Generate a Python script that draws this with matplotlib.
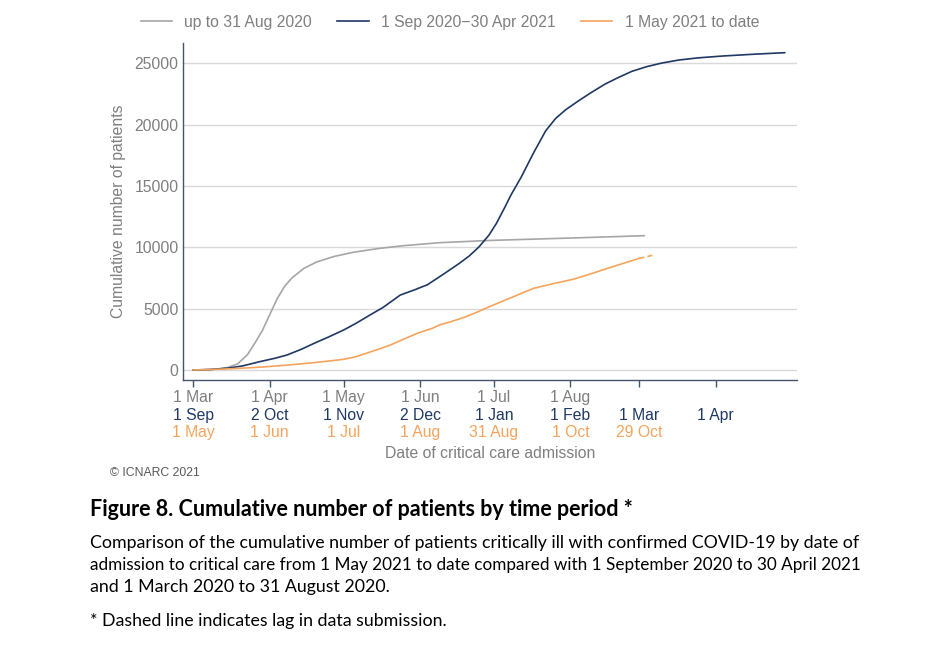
import matplotlib
matplotlib.use("Agg")
import matplotlib.pyplot as plt
import matplotlib.transforms as mtransforms

# days since start of each period
gray_days = [0, 5, 10, 14, 18, 22, 25, 28, 31, 34, 37, 40, 45, 50, 57, 65, 75, 85, 100, 120, 140, 160, 183]
gray_vals = [0, 20, 80, 200, 500, 1250, 2200, 3200, 4500, 5800, 6800, 7500, 8300, 8800, 9250, 9600,
             9900, 10130, 10380, 10560, 10680, 10800, 10950]

blue_days = [0, 7, 14, 20, 27, 33, 38, 44, 49, 55, 61, 66, 71, 77, 84, 90, 95, 100, 104, 108, 112, 116,
             120, 123, 126, 129, 133, 138, 143, 147, 151, 156, 161, 167, 172, 178, 184, 190, 197, 205,
             215, 228, 240]
blue_vals = [0, 40, 150, 330, 680, 950, 1220, 1700, 2170, 2700, 3260, 3800, 4400, 5100, 6110, 6550,
             6950, 7610, 8150, 8700, 9300, 10050, 11000, 11950, 13100, 14300, 15700, 17670, 19500,
             20500, 21200, 21900, 22560, 23300, 23800, 24350, 24730, 25020, 25270, 25450, 25600,
             25750, 25870]

orange_days = [0, 7, 14, 22, 30, 40, 49, 55, 61, 66, 70, 75, 80, 85, 91, 97, 100, 104, 110, 115, 120,
               126, 132, 138, 145, 154, 160, 166, 173, 181]
orange_vals = [0, 40, 90, 170, 270, 430, 600, 730, 870, 1080, 1350, 1680, 2040, 2480, 3000, 3400,
               3680, 3900, 4300, 4700, 5150, 5650, 6150, 6650, 6990, 7390, 7750, 8150, 8600, 9100]
# dashed part: lag in data submission
orange_lag_days = [181, 187]
orange_lag_vals = [9100, 9380]

tick_days = [0, 31, 61, 92, 122, 153, 181, 212]
labels_2020 = ["1 Mar", "1 Apr", "1 May", "1 Jun", "1 Jul", "1 Aug", "", ""]
labels_2021a = ["1 Sep", "2 Oct", "1 Nov", "2 Dec", "1 Jan", "1 Feb", "1 Mar", "1 Apr"]
labels_2021b = ["1 May", "1 Jun", "1 Jul", "1 Aug", "31 Aug", "1 Oct", "29 Oct", ""]

GRAY = "#a6a6a6"
NAVY = "#1f3864"
ORANGE = "#f4a45c"
TEXT_GRAY = "#7f7f7f"
SPINE = "#44546a"
FS = 11.3

plt.rcParams['font.family'] = ['Liberation Sans', 'DejaVu Sans']

fig = plt.figure(figsize=(9.5, 6.47), dpi=100)
ax = fig.add_axes([0.1923, 0.4127, 0.839 - 0.1923, 0.9335 - 0.4127])

ax.plot(gray_days, gray_vals, color=GRAY, lw=1.2, label="up to 31 Aug 2020")
ax.plot(blue_days, blue_vals, color=NAVY, lw=1.2, label="1 Sep 2020\u221230 Apr 2021")
ax.plot(orange_days, orange_vals, color=ORANGE, lw=1.2, label="1 May 2021 to date")
ax.plot(orange_lag_days, orange_lag_vals, color=ORANGE, lw=1.2, ls=(0, (3, 2)))

ax.set_xlim(-4.3, 245)
ax.set_ylim(-815, 26657)
ax.set_yticks([0, 5000, 10000, 15000, 20000, 25000])
ax.yaxis.grid(True, color="#d9d9d9", lw=1.0)
ax.set_axisbelow(True)
for s in ["top", "right"]:
    ax.spines[s].set_visible(False)
for s in ["left", "bottom"]:
    ax.spines[s].set_color(SPINE)
    ax.spines[s].set_linewidth(1.0)
ax.tick_params(axis="y", length=0, pad=3, labelsize=FS, labelcolor=TEXT_GRAY)
ax.set_xticks(tick_days)
ax.set_xticklabels(labels_2020)
ax.tick_params(axis="x", length=5, width=1, color=SPINE, pad=2.5, labelsize=FS, labelcolor=TEXT_GRAY)

# second and third rows of date labels, one per period
trans = mtransforms.blended_transform_factory(ax.transData, ax.transAxes)
for d, lab in zip(tick_days, labels_2021a):
    ax.text(d, 0, lab, transform=trans + mtransforms.ScaledTranslation(0, -36 / 100, fig.dpi_scale_trans),
            ha="center", va="center", fontsize=FS, color=NAVY)
for d, lab in zip(tick_days, labels_2021b):
    ax.text(d, 0, lab, transform=trans + mtransforms.ScaledTranslation(0, -53 / 100, fig.dpi_scale_trans),
            ha="center", va="center", fontsize=FS, color=ORANGE)

ax.set_ylabel("Cumulative number of patients", fontsize=FS, color=TEXT_GRAY, labelpad=6)
fig.text(490 / 950, 1 - 453 / 647, "Date of critical care admission", ha="center", va="center",
         fontsize=FS, color=TEXT_GRAY)

fig.legend(loc="center", bbox_to_anchor=(450 / 950, 1 - 22 / 647), ncol=3, frameon=False,
           fontsize=FS, handlelength=2.0, columnspacing=1.6, labelcolor=TEXT_GRAY)

fig.text(110 / 950, 1 - 473 / 647, "\u00a9 ICNARC 2021", fontsize=8.8, color="#595959", va="center")

cap_font = ['Lato', 'DejaVu Sans']
fig.text(90 / 950, 1 - 509 / 647, "Figure 8. Cumulative number of patients by time period *",
         fontsize=15.5, fontweight="bold", family=cap_font, va="center", color="black")
cap_lines = [
    "Comparison of the cumulative number of patients critically ill with confirmed COVID-19 by date of",
    "admission to critical care from 1 May 2021 to date compared with 1 September 2020 to 30 April 2021",
    "and 1 March 2020 to 31 August 2020.",
]
cap_sizes = [12.8, 12.3, 12.8]
for i, line in enumerate(cap_lines):
    fig.text(90 / 950, 1 - (543 + 22 * i) / 647, line, fontsize=cap_sizes[i],
             family=cap_font, va="center", color="black")
fig.text(90 / 950, 1 - 621 / 647, "* Dashed line indicates lag in data submission.", fontsize=12.8,
         family=cap_font, va="center", color="black")

fig.savefig("out.png", dpi=100)
